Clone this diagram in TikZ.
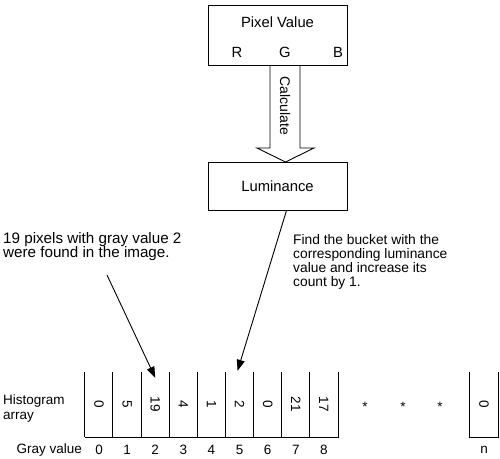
\documentclass[tikz,border=0pt]{standalone}
\usepackage{fontspec}
\setmainfont{Liberation Sans}
\usetikzlibrary{arrows.meta,positioning,calc}

\begin{document}
\begin{tikzpicture}[x=1pt, y=-1pt,
  box/.style={draw, line width=0.9pt, minimum width=139pt, font=\fontsize{14.8}{17}\selectfont},
  cell/.style={minimum width=28.1pt, minimum height=65pt, inner sep=0pt, font=\fontsize{13.5}{15}\selectfont},
  lbl/.style={inner sep=0pt, font=\fontsize{13.5}{15}\selectfont},
  note/.style={inner sep=0pt, align=left, anchor=north west},
  wall/.style={line width=1pt},
  pointer/.style={-{Triangle[length=11pt, width=8pt]}, line width=0.9pt}
]
\useasboundingbox (0,0) rectangle (500,458);

% Pixel value and luminance boxes.
\node[box, minimum height=60pt] (pixel) at (277.5,35) {};
\node[lbl, font=\fontsize{14.8}{17}\selectfont] (title) at (277.5,22) {Pixel Value};
\node[lbl, font=\fontsize{14.8}{17}\selectfont] (r) at (237,52) {R};
\node[lbl, font=\fontsize{14.8}{17}\selectfont] (g) at (285,52) {G};
\node[lbl, font=\fontsize{14.8}{17}\selectfont] (b) at (338,52) {B};
\node[box, minimum height=48pt] (lum) at (277.5,186) {Luminance};

% Hollow arrow between them.
\draw[line width=0.9pt] (270,65) -- (270,148) -- (257,148) -- (285.5,162)
  -- (314,148) -- (300,148) -- (300,65);
\node[lbl, rotate=-90, font=\fontsize{14}{16}\selectfont] (calc) at (285,106) {Calculate};

% Histogram buckets.
\foreach \v [count=\i from 0] in {0,5,19,4,1,2,0,21,17} {
  \node[cell] (c\i) at ({99.05+28.1*\i},404.5) {\rotatebox{-90}{\v}};
  \draw[wall] (c\i.north west) -- (c\i.south west);
  \node[lbl] (g\i) at (c\i.center |- 0,450) {\i};
}
\draw[wall] (c0.south west) -- (c8.south east) -- (c8.north east);
\node[cell] (cn) at (484,404.5) {\rotatebox{-90}{0}};
\draw[wall] (cn.north west) -- (cn.south west) -- (cn.south east) -- (cn.north east);
\node[lbl] (gn) at (cn.center |- 0,450) {n};

\node[lbl] (s1) at (365,407) {*};
\node[lbl] (s2) at (403,407) {*};
\node[lbl] (s3) at (440,407) {*};

\node[lbl, align=left, anchor=west] (hist) at (3,409) {Histogram\\array};
\node[lbl, anchor=east] (gray) at (82,450) {Gray value};

% Notes and pointers.
\node[note, font=\fontsize{15.2}{14.6}\selectfont] (note1) at (3,232)
  {19 pixels with gray value 2\\were found in the image.};
\node[note, font=\fontsize{13.8}{14.2}\selectfont] (note2) at (293,234)
  {Find the bucket with the\\corresponding luminance\\value and increase its\\count by 1.};

\coordinate (from1) at (107,275);
\draw[pointer] (from1) -- ([yshift=-6pt]c2.north);
\draw[pointer] ([xshift=9pt]lum.south) -- ([xshift=-2pt,yshift=1pt]c5.north);
\end{tikzpicture}
\end{document}
